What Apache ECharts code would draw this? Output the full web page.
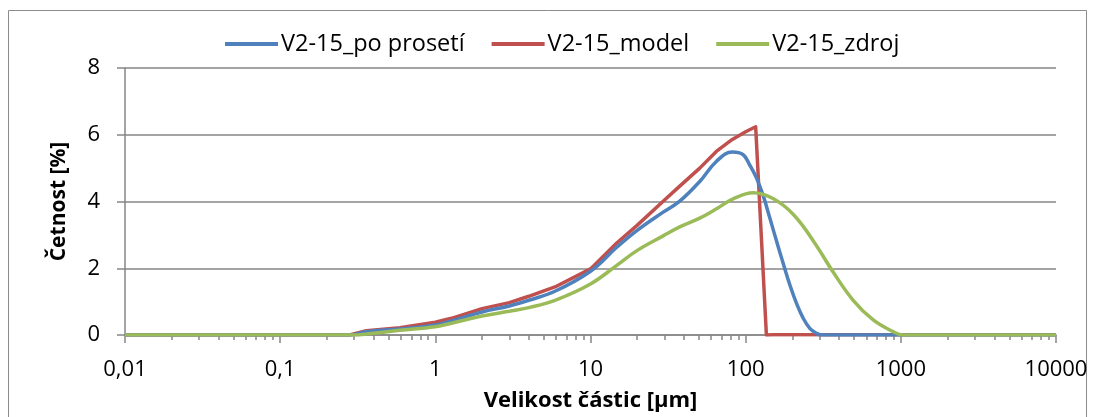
<!DOCTYPE html>
<html>
<head>
<meta charset="utf-8">
<script src="https://cdn.jsdelivr.net/npm/echarts@6/dist/echarts.min.js"></script>
<style>
  html, body { margin: 0; padding: 0; background: #fff; }
  #chart { width: 1094px; height: 417px; }
</style>
</head>
<body>
<div id="chart"></div>
<script>
// Particle size distribution (frequency vs. size, log scale)
const seriesNames = ['V2-15_po prosetí', 'V2-15_model', 'V2-15_zdroj'];

// V2-15_po prosetí
const sievedSizes  = [0.01, 0.28, 0.36, 0.59, 1, 1.27, 2, 3, 4, 5.9, 10, 14.7, 19.8, 29.4, 37.6, 50.6, 64.7, 82, 96.4, 106, 117.5, 130, 143, 158, 175, 193, 213, 235, 259, 286, 308, 10000];
const sievedValues = [0, 0, 0.1, 0.18, 0.3, 0.42, 0.69, 0.87, 1.04, 1.31, 1.91, 2.62, 3.12, 3.68, 4.01, 4.6, 5.2, 5.48, 5.4, 5.1, 4.7, 4.16, 3.51, 2.82, 2.13, 1.49, 0.94, 0.5, 0.2, 0.05, 0, 0];

// V2-15_model
const modelSizes  = [0.01, 0.28, 0.36, 0.59, 1, 1.27, 2, 3, 4, 5.9, 10, 14.7, 19.8, 29.4, 37.6, 50.6, 64.7, 82, 100, 116, 136, 150, 10000];
const modelValues = [0, 0, 0.13, 0.22, 0.38, 0.5, 0.79, 0.97, 1.16, 1.44, 1.98, 2.75, 3.27, 4.01, 4.46, 5.0, 5.5, 5.86, 6.09, 6.24, 0, 0.01, 0.01];

// V2-15_zdroj
const sourceSizes  = [0.01, 0.3, 0.36, 0.59, 1, 1.27, 2, 3, 4, 5.9, 10, 14.7, 19.8, 29.4, 37.6, 50.6, 64.9, 83, 112, 151, 203, 273, 367, 493, 664, 891, 1035, 10000];
const sourceValues = [0, 0, 0.03, 0.14, 0.25, 0.35, 0.57, 0.71, 0.82, 1.04, 1.53, 2.08, 2.52, 2.97, 3.24, 3.5, 3.78, 4.08, 4.26, 4.08, 3.61, 2.82, 1.88, 1.04, 0.45, 0.1, 0, 0];

const decadeTicks = [0.01, 0.1, 1, 10, 100, 1000, 10000];
const yTicks = [0, 2, 4, 6, 8];

const colors = ['#4F81BD', '#C0504D', '#9BBB59'];
const font = "'Open Sans', 'Noto Sans', sans-serif";
const axisGray = '#868686';

// minor ticks at 2..9 within each decade
const minorTicks = [];
for (let d = 0; d < decadeTicks.length - 1; d++) {
  for (let k = 2; k <= 9; k++) minorTicks.push(+(decadeTicks[d] * k).toPrecision(6));
}

const zip = (xs, ys) => xs.map((x, i) => [x, ys[i]]);

const chart = echarts.init(document.getElementById('chart'), null, { renderer: 'canvas' });

chart.setOption({
  animation: false,
  color: colors,
  graphic: [{
    type: 'rect',
    shape: { x: 8.5, y: 10.5, width: 1078, height: 430 },
    style: { fill: 'none', stroke: '#8c8c8c', lineWidth: 1 },
    silent: true
  }],
  legend: {
    top: 27,
    left: 220,
    itemWidth: 53,
    itemHeight: 4,
    itemGap: 27,
    textStyle: { fontFamily: font, fontSize: 23.5, color: '#000', padding: [0, 0, 0, -2] },
    data: seriesNames.map(n => ({ name: n, icon: 'rect' }))
  },
  grid: { left: 125, right: 38, top: 68, bottom: 80 },
  xAxis: [{
    type: 'log',
    logBase: 10,
    min: 0.01,
    max: 10000,
    position: 'bottom',
    name: 'Velikost částic [µm]',
    nameLocation: 'middle',
    nameGap: 55,
    nameTextStyle: { fontFamily: font, fontSize: 22, fontWeight: 'bold', color: '#000' },
    axisLine: { lineStyle: { color: axisGray, width: 1.5 } },
    axisTick: { show: true, length: 8, lineStyle: { color: axisGray, width: 1.5 }, customValues: decadeTicks },
    axisLabel: {
      margin: 24,
      fontFamily: font, fontSize: 22, color: '#000',
      customValues: decadeTicks,
      formatter: v => String(v).replace('.', ',')
    },
    splitLine: { show: false }
  }, {
    type: 'log',
    logBase: 10,
    min: 0.01,
    max: 10000,
    position: 'bottom',
    axisLine: { show: false },
    axisTick: { show: true, length: 5, lineStyle: { color: axisGray, width: 1.5 }, customValues: minorTicks },
    axisLabel: { show: false },
    splitLine: { show: false }
  }],
  yAxis: {
    type: 'value',
    min: 0,
    max: 8,
    interval: 2,
    name: 'Četnost [%]',
    nameLocation: 'middle',
    nameGap: 55,
    nameTextStyle: { fontFamily: font, fontSize: 21, fontWeight: 'bold', color: '#000' },
    axisLine: { show: true, lineStyle: { color: axisGray, width: 1.5 } },
    axisTick: { show: true, length: 8, lineStyle: { color: axisGray, width: 1.5 } },
    axisLabel: { margin: 25, fontFamily: font, fontSize: 22, color: '#000',
      customValues: yTicks },
    splitLine: { show: true, lineStyle: { color: axisGray, width: 1.5 } }
  },
  series: [{
    name: seriesNames[0],
    type: 'line',
    symbol: 'none',
    smooth: 0.4,
    lineStyle: { width: 3.5 },
    data: zip(sievedSizes, sievedValues),
    z: 3
  }, {
    name: seriesNames[1],
    type: 'line',
    symbol: 'none',
    smooth: false,
    lineStyle: { width: 3.5, join: 'round' },
    data: zip(modelSizes, modelValues),
    z: 2
  }, {
    name: seriesNames[2],
    type: 'line',
    symbol: 'none',
    smooth: 0.4,
    lineStyle: { width: 3.5 },
    data: zip(sourceSizes, sourceValues),
    z: 4
  }]
});
</script>
</body>
</html>
